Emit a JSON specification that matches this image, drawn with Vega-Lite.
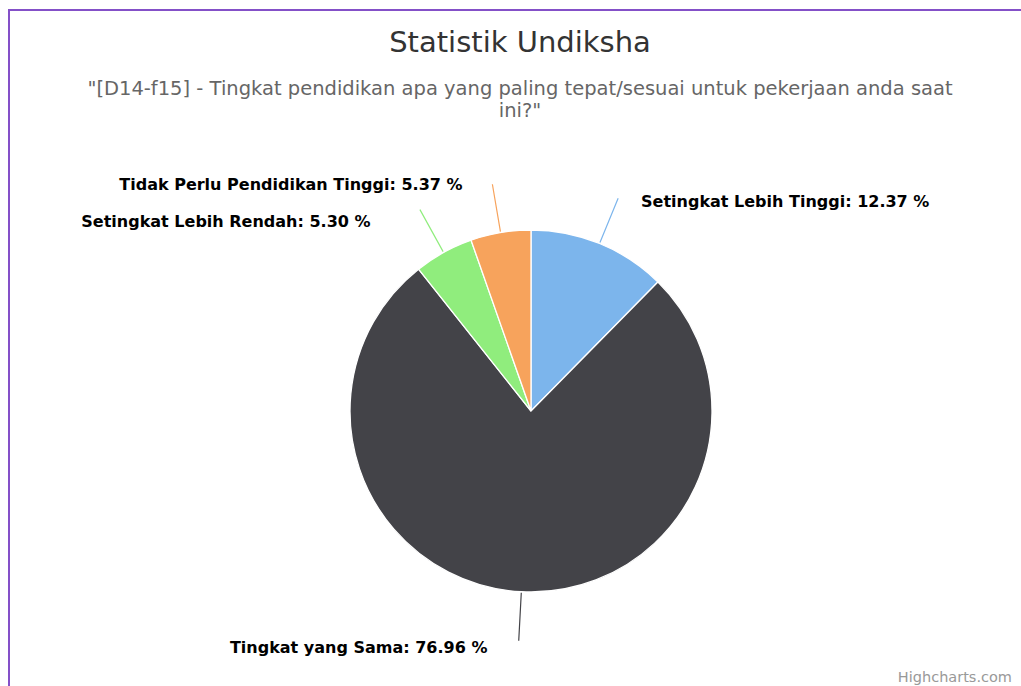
{
  "$schema": "https://vega.github.io/schema/vega-lite/v6.json",
  "width": 1044,
  "height": 802,
  "autosize": {"type": "none"},
  "padding": {"left": 9, "top": 10, "right": 0, "bottom": 0},
  "background": "white",
  "config": {"view": {"stroke": "#8450c8", "strokeWidth": 2}},
  "title": {
    "text": "Statistik Undiksha",
    "subtitle": ["\"[D14-f15] - Tingkat pendidikan apa yang paling tepat/sesuai untuk pekerjaan anda saat", "ini?\""],
    "font": "DejaVu Sans",
    "fontSize": 29,
    "fontWeight": "normal",
    "color": "#333333",
    "subtitleFont": "DejaVu Sans",
    "subtitleFontSize": 19.5,
    "subtitleColor": "#666666",
    "subtitleLineHeight": 22,
    "subtitlePadding": 22,
    "anchor": "middle",
    "frame": "group",
    "baseline": "top",
    "offset": -110,
    "dx": -11
  },
  "data": {
    "values": [
      {"idx": 1, "category": "Setingkat Lebih Tinggi", "value": 12.37, "label": "Setingkat Lebih Tinggi: 12.37 %"},
      {"idx": 2, "category": "Tingkat yang Sama", "value": 76.96, "label": "Tingkat yang Sama: 76.96 %"},
      {"idx": 3, "category": "Setingkat Lebih Rendah", "value": 5.30, "label": "Setingkat Lebih Rendah: 5.30 %"},
      {"idx": 4, "category": "Tidak Perlu Pendidikan Tinggi", "value": 5.37, "label": "Tidak Perlu Pendidikan Tinggi: 5.37 %"}
    ]
  },
  "transform": [
    {"stack": "value", "groupby": [], "sort": [{"field": "idx", "order": "ascending"}], "as": ["v0", "v1"]},
    {"fold": ["v0", "v1"], "as": ["edge", "pos"]},
    {"aggregate": [{"op": "mean", "field": "pos", "as": "mid"}], "groupby": ["idx", "category", "label", "value", "v0", "v1"]}
  ],
  "layer": [
    {
      "mark": {"type": "arc", "radius": 181, "stroke": "#ffffff", "strokeWidth": 1.3},
      "encoding": {
        "theta": {"field": "v0", "type": "quantitative", "stack": null, "scale": {"domain": [0, 100]}},
        "theta2": {"field": "v1"},
        "color": {
          "field": "category",
          "type": "nominal",
          "scale": {
            "domain": ["Setingkat Lebih Tinggi", "Tingkat yang Sama", "Setingkat Lebih Rendah", "Tidak Perlu Pendidikan Tinggi"],
            "range": ["#7cb5ec", "#434348", "#90ed7d", "#f7a35c"]
          },
          "legend": null
        }
      }
    },
    {
      "mark": {"type": "arc", "radius": 230, "radius2": 182, "filled": false, "strokeWidth": 1.2},
      "encoding": {
        "theta": {"field": "mid", "type": "quantitative", "stack": null, "scale": {"domain": [0, 100]}},
        "theta2": {"field": "mid"},
        "color": {"field": "category", "type": "nominal", "legend": null}
      }
    },
    {
      "transform": [{"filter": "datum.category == 'Setingkat Lebih Tinggi'"}],
      "mark": {"type": "text", "radius": 235, "align": "left", "baseline": "alphabetic", "dx": 21, "dy": 13, "font": "DejaVu Sans", "fontSize": 16, "fontWeight": "bold", "color": "#000000"},
      "encoding": {
        "theta": {"field": "mid", "type": "quantitative", "stack": null, "scale": {"domain": [0, 100]}},
        "text": {"field": "label"}
      }
    },
    {
      "transform": [{"filter": "datum.category == 'Tidak Perlu Pendidikan Tinggi'"}],
      "mark": {"type": "text", "radius": 235, "align": "right", "baseline": "alphabetic", "dx": -29, "dy": 11, "font": "DejaVu Sans", "fontSize": 16, "fontWeight": "bold", "color": "#000000"},
      "encoding": {
        "theta": {"field": "mid", "type": "quantitative", "stack": null, "scale": {"domain": [0, 100]}},
        "text": {"field": "label"}
      }
    },
    {
      "transform": [{"filter": "datum.category == 'Setingkat Lebih Rendah'"}],
      "mark": {"type": "text", "radius": 235, "align": "right", "baseline": "alphabetic", "dx": -47, "dy": 22, "font": "DejaVu Sans", "fontSize": 16, "fontWeight": "bold", "color": "#000000"},
      "encoding": {
        "theta": {"field": "mid", "type": "quantitative", "stack": null, "scale": {"domain": [0, 100]}},
        "text": {"field": "label"}
      }
    },
    {
      "transform": [{"filter": "datum.category == 'Tingkat yang Sama'"}],
      "mark": {"type": "text", "radius": 235, "align": "right", "baseline": "alphabetic", "dx": -31, "dy": 7, "font": "DejaVu Sans", "fontSize": 16, "fontWeight": "bold", "color": "#000000"},
      "encoding": {
        "theta": {"field": "mid", "type": "quantitative", "stack": null, "scale": {"domain": [0, 100]}},
        "text": {"field": "label"}
      }
    },
    {
      "data": {"values": [{"credit": "Highcharts.com"}]},
      "transform": [],
      "mark": {"type": "text", "align": "right", "baseline": "alphabetic", "dx": -41, "dy": -130, "font": "DejaVu Sans", "fontSize": 14.5, "color": "#999999"},
      "encoding": {
        "x": {"value": "width"},
        "y": {"value": "height"},
        "text": {"field": "credit"}
      }
    }
  ]
}
